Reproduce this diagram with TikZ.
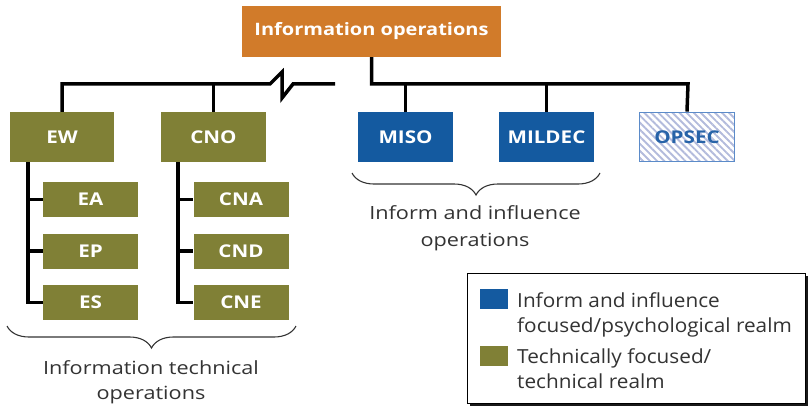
\documentclass[tikz,border=0pt]{standalone}
\usepackage{fontspec}
\setmainfont{Open Sans}
\newfontfamily\boxfont[FakeStretch=1.17]{Open Sans}
\newfontfamily\capfont[FakeStretch=1.19]{Open Sans}
\newfontfamily\legfont[FakeStretch=1.07]{Open Sans}
\usetikzlibrary{patterns.meta,decorations.pathreplacing,shadows}
\definecolor{ioorange}{HTML}{D17B2A}
\definecolor{ioblue}{HTML}{145AA0}
\definecolor{ioolive}{HTML}{808036}
\definecolor{opsborder}{HTML}{5B8BC9}
\definecolor{opshatch}{HTML}{B3BBDC}
\definecolor{opstext}{HTML}{2763A8}
\definecolor{txtgray}{HTML}{333333}
\tikzset{
  lbl/.style={font=\boxfont\fontsize{17.6}{22}\selectfont\bfseries, text=white, inner sep=0pt},
  olivebox/.style={lbl, fill=ioolive, minimum height=50pt},
  subbox/.style={lbl, fill=ioolive, minimum width=95pt, minimum height=35pt},
  bluebox/.style={lbl, fill=ioblue, minimum width=95pt, minimum height=50pt},
  conn/.style={line width=3.5pt, black},
  brc/.style={decorate, decoration={brace, mirror, amplitude=22pt}, line width=1.1pt, txtgray},
  caption/.style={font=\capfont\fontsize{18.2}{25}\selectfont, text=txtgray, align=center, inner sep=0pt},
  legtext/.style={font=\legfont\fontsize{19.4}{25}\selectfont, text=txtgray, align=left, inner sep=0pt}
}
\begin{document}
\begin{tikzpicture}[x=1pt,y=-1pt]
\useasboundingbox (0,0) rectangle (810,409);
% nodes
\node[lbl, font=\boxfont\fontsize{17.1}{22}\selectfont\bfseries, fill=ioorange, minimum width=259pt, minimum height=51pt] (io) at (371.5,31.5) {Information operations};
\node[olivebox, minimum width=104pt] (ew) at (62,137) {EW};
\node[olivebox, minimum width=105pt] (cno) at (213.5,137) {CNO};
\node[subbox] (ea) at (90.5,199.5) {EA};
\node[subbox] (ep) at (90.5,251) {EP};
\node[subbox] (es) at (90.5,302.5) {ES};
\node[subbox] (cna) at (241,199.5) {CNA};
\node[subbox] (cnd) at (241,251) {CND};
\node[subbox] (cne) at (241,302.5) {CNE};
\node[bluebox] (miso) at (405.5,137) {MISO};
\node[bluebox] (mildec) at (546.5,137) {MILDEC};
\node[lbl, text=opstext, draw=opsborder, line width=1pt,
      pattern={Lines[angle=-45,distance=5pt,line width=1.9pt]}, pattern color=opshatch,
      minimum width=95pt, minimum height=49pt] (opsec) at (687,137) {OPSEC};
% connectors right
\coordinate (hr) at (688,84);
\draw[conn] (io.south) |- (hr) -- (opsec.north);
\draw[conn] (miso.north) -- (miso.north |- hr);
\draw[conn] (mildec.north) -- (mildec.north |- hr);
% connectors left with break
\coordinate (hl) at (62,84);
\coordinate (zz0) at (270,84);
\coordinate (zz1) at (282,72);
\coordinate (zz2) at (282,98);
\coordinate (zz3) at (293,84);
\coordinate (hlend) at (335,84);
\draw[conn, line join=miter] (ew.north) -- (hl) -- (zz0) -- (zz1) -- (zz2) -- (zz3) -- (hlend);
\draw[conn] (cno.north) -- (cno.north |- hl);
% sub trees
\coordinate (ewv) at (28,162);
\draw[conn] (ewv) |- (es.west);
\draw[conn] (ewv |- ea.west) -- (ea.west);
\draw[conn] (ewv |- ep.west) -- (ep.west);
\coordinate (cnov) at (178,162);
\draw[conn] (cnov) |- (cne.west);
\draw[conn] (cnov |- cna.west) -- (cna.west);
\draw[conn] (cnov |- cnd.west) -- (cnd.west);
% braces
\coordinate (b1l) at (7,326);
\coordinate (b1r) at (296,326);
\draw[brc] (b1l) -- (b1r);
\node[caption, anchor=north] (cap1) at (151,360) {Information technical\\operations};
\coordinate (b2l) at (352,173);
\coordinate (b2r) at (600,173);
\draw[brc] (b2l) -- (b2r);
\node[caption, anchor=north, font=\capfont\fontsize{18.2}{26.5}\selectfont] (cap2) at (475,205.5) {Inform and influence\\operations};
% legend
\node[draw=black, line width=0.8pt, fill=white, minimum width=338pt, minimum height=130pt, inner sep=0pt,
      drop shadow={shadow xshift=3pt, shadow yshift=-3pt, fill=black, opacity=0.9}] (leg) at (636,338) {};
\node[fill=ioblue, minimum width=28pt, minimum height=20pt, inner sep=0pt] (sw1) at (494,299) {};
\node[fill=ioolive, minimum width=28pt, minimum height=20pt, inner sep=0pt] (sw2) at (494,356) {};
\node[legtext, anchor=north west] (lt1) at (517,292) {Inform and influence\\focused/psychological realm};
\node[legtext, anchor=north west] (lt2) at (517,348.5) {Technically focused/\\technical realm};
\end{tikzpicture}
\end{document}
